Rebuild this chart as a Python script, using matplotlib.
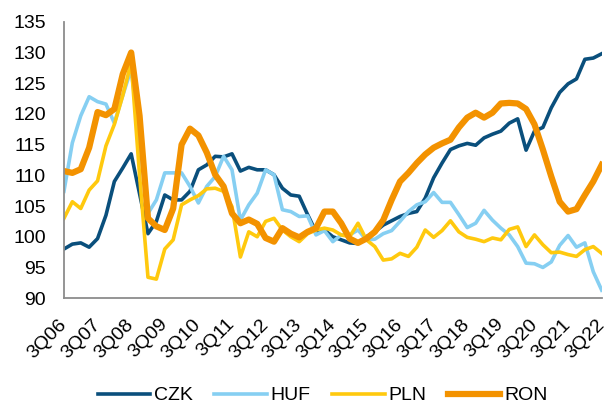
import matplotlib
matplotlib.use("Agg")
import matplotlib.pyplot as plt
import matplotlib.transforms as mtransforms
import numpy as np

plt.rcParams['font.family'] = ['Liberation Sans', 'DejaVu Sans']

tick_labels = ["3Q06", "3Q07", "3Q08", "3Q09", "3Q10", "3Q11", "3Q12", "3Q13",
               "3Q14", "3Q15", "3Q16", "3Q17", "3Q18", "3Q19", "3Q20", "3Q21", "3Q22"]

czk = [98.0, 98.8, 99.0, 98.3, 99.7, 103.5, 109.0, 111.2, 113.5, 107.0,
       100.5, 102.5, 106.8, 106.0, 106.0, 107.4, 110.9, 111.7, 113.1, 113.0,
       113.5, 110.7, 111.3, 110.9, 110.9, 110.1, 107.9, 106.8, 106.6, 103.6,
       100.8, 101.1, 100.0, 99.5, 99.0, 98.9, 100.0, 100.8, 101.9, 102.6,
       103.3, 103.8, 104.1, 106.3, 109.6, 112.0, 114.2, 114.8, 115.2, 114.9,
       116.1, 116.7, 117.2, 118.5, 119.2, 114.1, 117.2, 117.8, 121.0, 123.5,
       124.9, 125.7, 128.9, 129.1, 129.8]

huf = [107.4, 115.3, 119.7, 122.8, 122.0, 121.6, 118.5, 123.0, 127.3, 116.0,
       103.8, 106.0, 110.4, 110.4, 110.4, 108.2, 105.5, 108.2, 109.8, 113.1,
       110.9, 102.7, 105.2, 107.1, 110.9, 110.1, 104.4, 104.1, 103.3, 103.4,
       100.3, 101.0, 99.2, 100.3, 100.3, 101.1, 99.5, 99.6, 100.5, 101.0,
       102.5, 104.1, 105.2, 105.7, 107.2, 105.6, 105.6, 103.6, 101.5, 102.2,
       104.3, 102.7, 101.4, 100.3, 98.4, 95.7, 95.6, 95.0, 95.9, 98.6,
       100.2, 98.3, 99.0, 94.3, 91.3]

pln = [103.0, 105.7, 104.6, 107.6, 109.1, 114.8, 118.3, 123.0, 128.4, 110.0,
       93.4, 93.1, 98.0, 99.5, 105.2, 106.0, 106.7, 107.8, 107.9, 107.4,
       104.9, 96.7, 100.8, 100.0, 102.5, 103.0, 101.1, 100.0, 99.2, 100.5,
       101.1, 101.4, 101.1, 100.3, 100.0, 102.2, 99.5, 98.4, 96.2, 96.4,
       97.3, 96.8, 98.3, 101.1, 99.9, 101.0, 102.6, 100.8, 99.9, 99.6,
       99.2, 99.8, 99.5, 101.2, 101.6, 98.4, 100.3, 98.7, 97.4, 97.5,
       97.1, 96.8, 97.9, 98.4, 97.3]

ron = [110.7, 110.4, 111.0, 114.5, 120.3, 119.8, 120.8, 126.5, 130.0, 119.7,
       103.0, 101.7, 101.1, 104.6, 115.0, 117.6, 116.5, 113.7, 110.1, 108.2,
       103.8, 102.2, 102.8, 102.1, 99.8, 99.2, 101.4, 100.5, 99.9, 100.8,
       101.4, 104.1, 104.1, 102.2, 99.7, 99.0, 99.7, 100.8, 102.7, 106.0,
       109.0, 110.4, 112.0, 113.4, 114.5, 115.2, 115.8, 117.8, 119.4, 120.2,
       119.4, 120.2, 121.7, 121.8, 121.7, 120.8, 118.3, 114.2, 109.8, 105.7,
       104.1, 104.5, 106.8, 109.0, 111.7]

x = np.arange(len(czk))

fig = plt.figure(figsize=(6.09, 4.04), dpi=100)
ax = fig.add_axes([0.105, 0.262, 0.883, 0.684])

ax.plot(x, czk, color='#0A4F7C', lw=2.6, label='CZK', solid_joinstyle='round')
ax.plot(x, huf, color='#86CFF2', lw=2.6, label='HUF', solid_joinstyle='round')
ax.plot(x, pln, color='#FFC90E', lw=2.6, label='PLN', solid_joinstyle='round')
ax.plot(x, ron, color='#F39200', lw=4.5, label='RON', solid_joinstyle='round')

ax.set_xlim(0, len(czk) - 1)
ax.set_ylim(90, 135)
ax.set_yticks(np.arange(90, 136, 5))
ax.set_xticks(np.arange(0, len(czk), 4))
ax.set_xticklabels(tick_labels, rotation=45, ha='right', va='center',
                   rotation_mode='anchor', fontsize=14)
shift = mtransforms.ScaledTranslation(-2 / 100, 0, fig.dpi_scale_trans)
for lab in ax.get_xticklabels():
    lab.set_transform(lab.get_transform() + shift)

for s in ['top', 'right']:
    ax.spines[s].set_visible(False)
for s in ['left', 'bottom']:
    ax.spines[s].set_color('#8C8C8C')
    ax.spines[s].set_linewidth(1.3)
ax.tick_params(axis='both', length=0, colors='black')
ax.tick_params(axis='y', pad=13, labelsize=14)
ax.tick_params(axis='x', pad=17)

fig.legend(loc='center', bbox_to_anchor=(0.53, 0.021), ncol=4, frameon=False,
           fontsize=14, handlelength=2.7, columnspacing=1.1, handletextpad=0.2,
           borderpad=0.0)

fig.savefig('out.png', dpi=100)
